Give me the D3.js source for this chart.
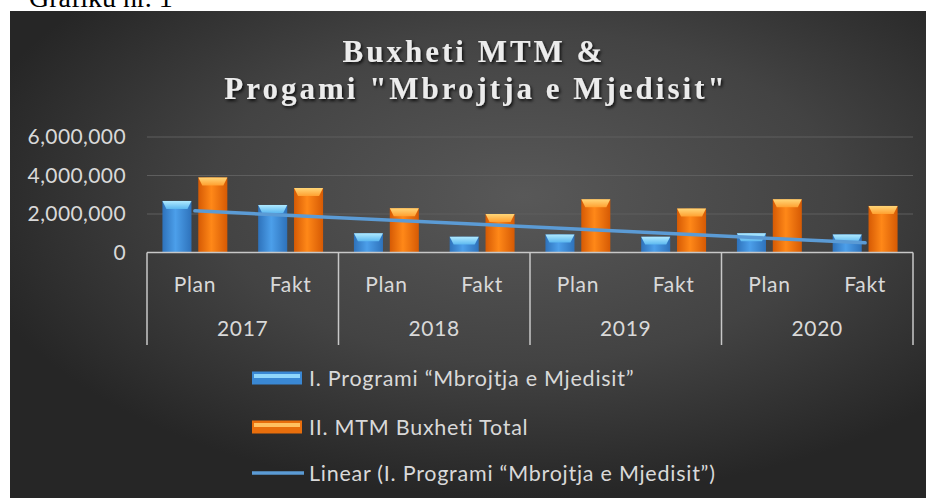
<!DOCTYPE html>
<html>
<head>
<meta charset="utf-8">
<script src="https://cdn.jsdelivr.net/npm/d3@7"></script>
<style>
  body { margin: 0; background: #fff; }
  svg { display: block; }
</style>
</head>
<body>
<div id="chart"></div>
<script>
// data
const years = ['2017', '2018', '2019', '2020'];
const categories = ['Plan', 'Fakt'];
const programi = [2680000, 2470000, 1000000, 820000, 940000, 820000, 1000000, 940000];
const buxheti = [3900000, 3350000, 2300000, 2000000, 2760000, 2280000, 2760000, 2420000];
const yTicks = [0, 2000000, 4000000, 6000000];
const seriesNames = ['I. Programi “Mbrojtja e Mjedisit”', 'II. MTM Buxheti Total'];
const trendName = 'Linear (I. Programi “Mbrojtja e Mjedisit”)';

const width = 928;
const height = 499;
const textColor = '#d9d9d9';
const font = 'Lato, "Open Sans", sans-serif';

const svg = d3.select('#chart')
  .append('svg')
  .attr('width', width)
  .attr('height', height);

const defs = svg.append('defs');

// background gradient
const bg = defs.append('radialGradient')
  .attr('id', 'bg')
  .attr('cx', '0.56').attr('cy', '0.38').attr('r', '0.62');
bg.append('stop').attr('offset', '0').attr('stop-color', '#585858');
bg.append('stop').attr('offset', '0.55').attr('stop-color', '#434343');
bg.append('stop').attr('offset', '1').attr('stop-color', '#262626');

// bar gradients
function barGradient(id, edge, mid) {
  const g = defs.append('linearGradient').attr('id', id)
    .attr('x1', '0').attr('x2', '1').attr('y1', '0').attr('y2', '0');
  g.append('stop').attr('offset', '0').attr('stop-color', edge);
  g.append('stop').attr('offset', '0.45').attr('stop-color', mid);
  g.append('stop').attr('offset', '1').attr('stop-color', edge);
}
barGradient('blueBar', '#2e72bb', '#4c9fea');
barGradient('orangeBar', '#d65a04', '#ff8818');

function bevelGradient(id, top, bottom) {
  const g = defs.append('linearGradient').attr('id', id)
    .attr('x1', '0').attr('x2', '0').attr('y1', '0').attr('y2', '1');
  g.append('stop').attr('offset', '0').attr('stop-color', top);
  g.append('stop').attr('offset', '1').attr('stop-color', bottom);
}
bevelGradient('blueTop', '#b0eaff', '#5cb8f0');
bevelGradient('orangeTop', '#ffd678', '#ffa030');

const shadow = defs.append('filter').attr('id', 'tshadow')
  .attr('x', '-10%').attr('y', '-20%').attr('width', '120%').attr('height', '150%');
shadow.append('feDropShadow')
  .attr('dx', 1.5).attr('dy', 2).attr('stdDeviation', 1.5)
  .attr('flood-color', '#000').attr('flood-opacity', 0.8);

// caption above the chart, cut off at the top as in the source
svg.append('text')
  .attr('x', 29)
  .attr('y', 7)
  .attr('font-family', '"Liberation Serif", serif')
  .attr('font-size', 28)
  .attr('fill', '#000')
  .text('Grafiku nr. 1');

// chart area
svg.append('rect')
  .attr('x', 10).attr('y', 11)
  .attr('width', 916).attr('height', 487)
  .attr('fill', 'url(#bg)');

// title
const title = svg.append('text')
  .attr('text-anchor', 'middle')
  .attr('font-family', '"Liberation Serif", serif')
  .attr('font-weight', 'bold')
  .attr('font-size', 31)
  .attr('letter-spacing', 3)
  .attr('fill', '#ececec')
  .attr('filter', 'url(#tshadow)');
title.append('tspan').attr('x', 474).attr('y', 62).text('Buxheti MTM &');
title.append('tspan').attr('x', 476).attr('y', 99).text('Progami "Mbrojtja e Mjedisit"');

// scales
const x0 = d3.scaleBand()
  .domain(years)
  .range([147, 913]);

const x1 = d3.scaleBand()
  .domain(categories)
  .range([0, x0.bandwidth()]);

const xs = d3.scaleBand()
  .domain([0, 1])
  .range([0, x1.bandwidth()])
  .paddingInner(0.19)
  .paddingOuter(0.43);

const yScale = d3.scaleLinear()
  .domain([0, 6000000])
  .range([252.5, 137]);

// flat list of points
const points = [];
years.forEach((yr, i) => {
  categories.forEach((cat, j) => {
    const k = i * categories.length + j;
    points.push({ year: yr, cat: cat, idx: k, values: [programi[k], buxheti[k]] });
  });
});
const catX = d => x0(d.year) + x1(d.cat);

// gridlines
svg.append('g')
  .selectAll('line')
  .data(yTicks.filter(t => t > 0))
  .enter()
  .append('line')
  .attr('x1', 147).attr('x2', 913)
  .attr('y1', d => yScale(d)).attr('y2', d => yScale(d))
  .attr('stroke', '#5e5e5e')
  .attr('stroke-width', 1.2);

// y axis labels
const yAxis = svg.append('g')
  .attr('transform', 'translate(132,0)')
  .call(d3.axisLeft(yScale).tickValues(yTicks).tickFormat(d3.format(',')).tickSize(0).tickPadding(6));
yAxis.select('.domain').remove();
yAxis.selectAll('text')
  .attr('font-family', font)
  .attr('font-size', 21)
  .attr('letter-spacing', 0.4)
  .attr('fill', textColor);

// bars
const fills = ['url(#blueBar)', 'url(#orangeBar)'];
const tops = ['url(#blueTop)', 'url(#orangeTop)'];
const groups = svg.append('g')
  .selectAll('g')
  .data(points)
  .enter()
  .append('g')
  .attr('transform', d => `translate(${catX(d)},0)`);

groups.selectAll('g.bar')
  .data(d => d.values.map((v, s) => ({ v: v, s: s })))
  .enter()
  .append('g')
  .attr('class', 'bar')
  .each(function(d) {
    const g = d3.select(this);
    const bx = xs(d.s);
    const bw = xs.bandwidth();
    const by = yScale(d.v);
    const bh = yScale(0) - by;
    const bev = Math.min(8, bh / 2);
    g.append('rect')
      .attr('x', bx).attr('y', by)
      .attr('width', bw).attr('height', bh)
      .attr('fill', fills[d.s]);
    g.append('polygon')
      .attr('points', [
        [bx, by], [bx + bw, by],
        [bx + bw - 4, by + bev], [bx + 4, by + bev]
      ].map(p => p.join(',')).join(' '))
      .attr('fill', tops[d.s]);
  });

// linear trend of the first series
const n = programi.length;
const xsIdx = d3.range(1, n + 1);
const mx = d3.mean(xsIdx);
const my = d3.mean(programi);
const slope = d3.sum(xsIdx, (x, i) => (x - mx) * (programi[i] - my)) / d3.sum(xsIdx, x => (x - mx) * (x - mx));
const intercept = my - slope * mx;
const trend = [points[0], points[n - 1]].map(p => ({
  x: catX(p) + x1.bandwidth() / 2,
  y: yScale(intercept + slope * (p.idx + 1))
}));

svg.append('path')
  .datum(trend)
  .attr('d', d3.line().x(d => d.x).y(d => d.y))
  .attr('fill', 'none')
  .attr('stroke', '#5b9bd5')
  .attr('stroke-width', 3.5)
  .attr('stroke-linecap', 'round');

// x axis
svg.append('line')
  .attr('x1', 147).attr('x2', 913)
  .attr('y1', yScale(0)).attr('y2', yScale(0))
  .attr('stroke', '#c8c8c8')
  .attr('stroke-width', 1.5);

svg.append('g')
  .selectAll('line')
  .data(years.map(y => x0(y)).concat([x0.range()[1]]))
  .enter()
  .append('line')
  .attr('x1', d => d).attr('x2', d => d)
  .attr('y1', yScale(0)).attr('y2', 345)
  .attr('stroke', '#c8c8c8')
  .attr('stroke-width', 1.5);

svg.append('g')
  .selectAll('text')
  .data(points)
  .enter()
  .append('text')
  .attr('x', d => catX(d) + x1.bandwidth() / 2)
  .attr('y', 292)
  .attr('text-anchor', 'middle')
  .attr('font-family', font)
  .attr('font-size', 21)
  .attr('letter-spacing', 0.7)
  .attr('fill', textColor)
  .text(d => d.cat);

svg.append('g')
  .selectAll('text')
  .data(years)
  .enter()
  .append('text')
  .attr('x', d => x0(d) + x0.bandwidth() / 2)
  .attr('y', 336)
  .attr('text-anchor', 'middle')
  .attr('font-family', font)
  .attr('font-size', 21)
  .attr('letter-spacing', 0.7)
  .attr('fill', textColor)
  .text(d => d);

// legend
const legendY = [378, 427, 473];
const legend = svg.append('g');
[0, 1].forEach(s => {
  legend.append('rect')
    .attr('x', 252).attr('y', legendY[s] - 6.5)
    .attr('width', 50).attr('height', 13)
    .attr('fill', s === 0 ? '#3a88d4' : '#e86e0c');
  legend.append('rect')
    .attr('x', 254).attr('y', legendY[s] - 4)
    .attr('width', 46).attr('height', 4)
    .attr('fill', s === 0 ? '#8fd6fb' : '#ffc060');
});
legend.append('line')
  .attr('x1', 252).attr('x2', 304)
  .attr('y1', legendY[2]).attr('y2', legendY[2])
  .attr('stroke', '#5b9bd5')
  .attr('stroke-width', 3.5);

legend.selectAll('text')
  .data(seriesNames.concat([trendName]))
  .enter()
  .append('text')
  .attr('x', 309)
  .attr('y', (d, i) => legendY[i] + 7.5)
  .attr('font-family', font)
  .attr('font-size', 21.5)
  .attr('letter-spacing', 0.75)
  .attr('fill', textColor)
  .text(d => d);
</script>
</body>
</html>
